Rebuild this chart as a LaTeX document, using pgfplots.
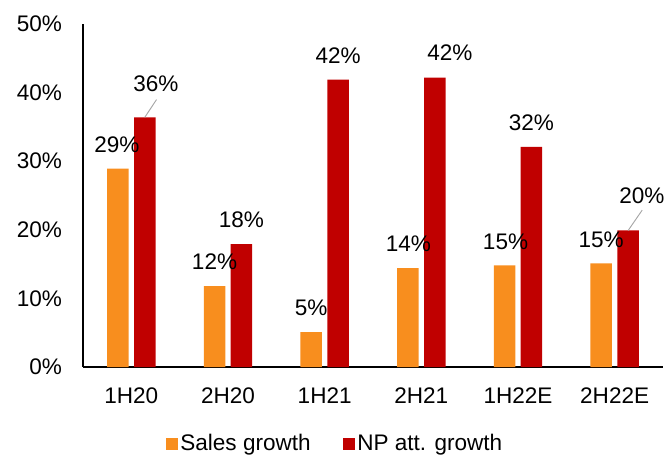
\documentclass[border=0pt]{standalone}
\usepackage{fontspec}
\setmainfont{Liberation Sans}
\usepackage{pgfplots}
\pgfplotsset{compat=1.18}
\usepackage{pgfplotstable}
\definecolor{salesor}{RGB}{248,142,30}
\definecolor{npred}{RGB}{192,0,0}

% dx, dy: label offset (pt) from the top centre of the category
\pgfplotstableread{
x y lbl dx dy
0 28.9 29 -10.85 18
1 11.8 12 -10.1 18
2 5.1 5 -10.1 18
3 14.4 14 -9.7 18
4 14.8 15 -9.35 18
5 15.1 15 -10.1 18
}\sales
\pgfplotstableread{
x y lbl dx dy
0 36.4 36 18.35 25.5
1 17.9 18 10.1 18
2 41.9 42 10.1 18
3 42.2 42 21.35 18.4
4 32.1 32 10.1 18
5 19.9 20 20.4 26.25
}\np

\begin{document}
\fontsize{16.9}{20}\selectfont
\begin{tikzpicture}
\clip (-62.25pt,-67.5pt) rectangle (438pt,275.25pt);
\begin{axis}[
  at={(0pt,0pt)}, anchor=south west,
  width=435pt, height=257.25pt, scale only axis,
  xmin=-0.5, xmax=5.5, ymin=0, ymax=50,
  axis x line=bottom, axis y line=left,
  axis line style={-, black},
  x axis line style={line width=1.1pt},
  y axis line style={line width=0.8pt},
  xtick={0,...,5}, xticklabels={1H20,2H20,1H21,2H21,1H22E,2H22E},
  ytick={0,10,...,50}, yticklabel={\pgfmathprintnumber{\tick}\%},
  major tick length=0pt,
  /pgf/number format/assume math mode=true,
  tick label style={font=\fontsize{16.9}{20}\selectfont, text=black},
  yticklabel style={xshift=-10pt},
  xticklabel style={yshift=-9.5pt},
  bar width=16.1pt,
  legend style={at={(0.435,-0.225)}, anchor=center, legend columns=2, draw=none, fill=none,
    font=\fontsize{16.9}{20}\selectfont,
    /tikz/every even column/.append style={column sep=22pt}},
  legend image code/.code={\fill[#1] (0pt,-4.5pt) rectangle (9pt,4.5pt);},
  clip=false,
]
\addplot[ybar, bar shift=-10.1pt, fill=salesor, draw=none,
  point meta=explicit symbolic,
  nodes near coords={\pgfplotspointmeta\%},
  visualization depends on={\thisrow{dx} \as \dx},
  visualization depends on={\thisrow{dy} \as \dy},
  every node near coord/.append style={anchor=center, xshift=\dx pt, yshift=\dy pt, text=black, font=\fontsize{16.9}{20}\selectfont}]
  table[x=x, y=y, meta=lbl]{\sales};
\addlegendentry{Sales growth}
\addplot[ybar, bar shift=10.1pt, fill=npred, draw=none,
  point meta=explicit symbolic,
  nodes near coords={\pgfplotspointmeta\%},
  visualization depends on={\thisrow{dx} \as \dx},
  visualization depends on={\thisrow{dy} \as \dy},
  every node near coord/.append style={anchor=center, xshift=\dx pt, yshift=\dy pt, text=black, font=\fontsize{16.9}{20}\selectfont}]
  table[x=x, y=y, meta=lbl]{\np};
\addlegendentry{NP att. growth}
\draw[gray!70, line width=0.7pt] ([xshift=10.1pt]axis cs:0,36.4) -- ++(8.8pt,13.3pt);
\draw[gray!70, line width=0.7pt] ([xshift=10.1pt]axis cs:5,19.9) -- ++(10.5pt,15.2pt);
\end{axis}
\end{tikzpicture}
\end{document}
